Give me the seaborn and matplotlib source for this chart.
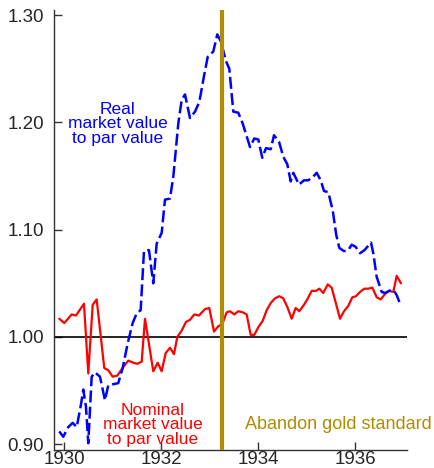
import matplotlib
matplotlib.use('Agg')
import matplotlib.pyplot as plt
import pandas as pd
import seaborn as sns

# nominal market value to par value
nominal_dates = [1929.897, 1930.000, 1930.153, 1930.241, 1930.406, 1930.495, 1930.586,
                 1930.668, 1930.825, 1930.907, 1930.998, 1931.093, 1931.216, 1931.320,
                 1931.423, 1931.505, 1931.596, 1931.664, 1931.835, 1931.926, 1932.008,
                 1932.091, 1932.179, 1932.262, 1932.330, 1932.421, 1932.509, 1932.592,
                 1932.680, 1932.777, 1932.901, 1932.990, 1933.087, 1933.175, 1933.258,
                 1933.348, 1933.416, 1933.505, 1933.588, 1933.678, 1933.761, 1933.843,
                 1933.918, 1934.000, 1934.091, 1934.173, 1934.262, 1934.344, 1934.433,
                 1934.515, 1934.598, 1934.689, 1934.771, 1934.845, 1934.942, 1935.010,
                 1935.101, 1935.190, 1935.258, 1935.340, 1935.431, 1935.513, 1935.596,
                 1935.685, 1935.767, 1935.856, 1935.938, 1936.014, 1936.097, 1936.186,
                 1936.268, 1936.351, 1936.441, 1936.524, 1936.612, 1936.695, 1936.784,
                 1936.854, 1936.942]
nominal_values = [1.017, 1.013, 1.021, 1.020, 1.031, 0.966, 1.030,
                  1.035, 0.971, 0.969, 0.963, 0.964, 0.972, 0.978,
                  0.976, 0.975, 0.977, 1.017, 0.968, 0.976, 0.968,
                  0.985, 0.990, 0.984, 1.000, 1.006, 1.014, 1.016,
                  1.021, 1.020, 1.026, 1.027, 1.005, 1.010, 1.012,
                  1.023, 1.024, 1.021, 1.024, 1.023, 1.021, 1.002,
                  1.002, 1.009, 1.015, 1.025, 1.032, 1.036, 1.038,
                  1.036, 1.028, 1.017, 1.027, 1.024, 1.030, 1.035,
                  1.043, 1.043, 1.045, 1.041, 1.049, 1.046, 1.032,
                  1.017, 1.024, 1.029, 1.037, 1.038, 1.042, 1.045,
                  1.045, 1.046, 1.037, 1.035, 1.040, 1.043, 1.042,
                  1.057, 1.050]

# real market value to par value
real_dates = [1929.897, 1929.979, 1930.082, 1930.173, 1930.256, 1930.344, 1930.392,
              1930.447, 1930.495, 1930.565, 1930.633, 1930.736, 1930.839, 1930.907,
              1931.010, 1931.113, 1931.204, 1931.307, 1931.410, 1931.493, 1931.575,
              1931.643, 1931.746, 1931.835, 1931.905, 1932.008, 1932.076, 1932.179,
              1932.247, 1932.351, 1932.421, 1932.489, 1932.592, 1932.695, 1932.784,
              1932.880, 1932.957, 1933.072, 1933.155, 1933.231, 1933.334, 1933.402,
              1933.485, 1933.588, 1933.678, 1933.761, 1933.829, 1933.918, 1934.000,
              1934.082, 1934.159, 1934.256, 1934.324, 1934.427, 1934.515, 1934.598,
              1934.668, 1934.722, 1934.839, 1934.942, 1935.031, 1935.122, 1935.204,
              1935.287, 1935.355, 1935.443, 1935.534, 1935.608, 1935.670, 1935.767,
              1935.856, 1935.926, 1936.008, 1936.097, 1936.191, 1936.324, 1936.371,
              1936.441, 1936.544, 1936.612, 1936.701, 1936.784, 1936.854, 1936.922]
real_values = [0.912, 0.907, 0.916, 0.920, 0.916, 0.937, 0.951,
               0.935, 0.901, 0.963, 0.967, 0.963, 0.941, 0.955,
               0.956, 0.957, 0.971, 0.994, 1.013, 1.022, 1.025,
               1.080, 1.081, 1.050, 1.087, 1.097, 1.128, 1.129,
               1.149, 1.199, 1.221, 1.226, 1.204, 1.210, 1.219,
               1.243, 1.261, 1.266, 1.282, 1.275, 1.257, 1.250,
               1.210, 1.209, 1.199, 1.187, 1.177, 1.185, 1.184,
               1.167, 1.176, 1.175, 1.188, 1.182, 1.168, 1.161,
               1.145, 1.153, 1.142, 1.146, 1.146, 1.149, 1.153,
               1.146, 1.136, 1.135, 1.118, 1.095, 1.083, 1.080,
               1.081, 1.086, 1.084, 1.078, 1.081, 1.088, 1.078,
               1.056, 1.042, 1.041, 1.043, 1.044, 1.039, 1.031]

gold_date = 1933.247
x_ticks = [1930, 1932, 1934, 1936]
y_ticks = [0.90, 1.00, 1.10, 1.20, 1.30]

gold = '#B08C00'

sns.set_style('ticks')
plt.rcParams['font.family'] = ['Liberation Sans', 'DejaVu Sans']

nominal = pd.DataFrame({'date': nominal_dates, 'value': nominal_values})
real = pd.DataFrame({'date': real_dates, 'value': real_values})

fig = plt.figure(figsize=(4.34, 4.68), dpi=100)
ax = fig.add_axes([0.1244, 0.0385, 0.8134, 0.9401])

ax.axhline(1.0, color='black', lw=1.2, zorder=1)
sns.lineplot(data=nominal, x='date', y='value', color='#FF0000', lw=1.6,
             sort=False, ax=ax, zorder=3)
sns.lineplot(data=real, x='date', y='value', color='#0000FF', lw=1.8,
             linestyle=(0, (4.8, 1.7)), sort=False, ax=ax, zorder=3)
ax.axvline(gold_date, color=gold, lw=3.0, zorder=4)

ax.text(1931.107, 1.1985, 'Real\nmarket value\nto par value', color='#0000FF',
        fontsize=12.5, ha='center', va='center', linespacing=0.95)
ax.text(1931.82, 0.918, 'Nominal\nmarket value\nto par value', color='#FF0000',
        fontsize=12.5, ha='center', va='center', linespacing=0.95)
ax.text(1935.643, 0.9143, 'Abandon gold standard', color=gold,
        fontsize=13, ha='center', va='baseline', clip_on=False)

ax.set_xlim(1929.788, 1937.066)
ax.set_ylim(0.8947, 1.3047)
ax.set_xticks(x_ticks)
ax.set_yticks(y_ticks)
ax.set_yticklabels(['%.2f' % v for v in y_ticks])
ax.set_xlabel('')
ax.set_ylabel('')
ax.tick_params(direction='in', length=6, width=1, labelsize=13.5, color='#333333')
ax.tick_params(axis='x', pad=1)
ax.tick_params(axis='y', pad=7)
for side in ['top', 'right']:
    ax.spines[side].set_visible(False)
for side in ['left', 'bottom']:
    ax.spines[side].set_linewidth(1)
    ax.spines[side].set_color('#333333')

fig.savefig('out.png', dpi=100)
